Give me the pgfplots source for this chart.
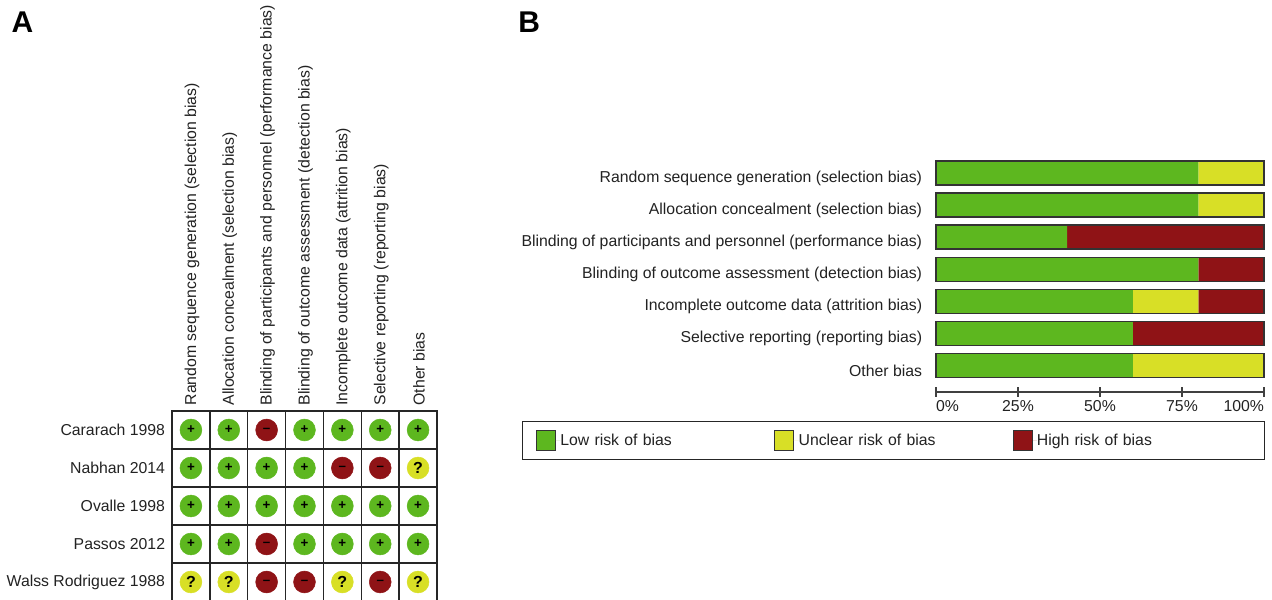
\documentclass[border=0pt]{standalone}
\usepackage{pgfplots}
\pgfplotsset{compat=1.18}
\usepackage{fontspec}
\setmainfont{Liberation Sans}
\definecolor{lowc}{HTML}{5DB71F}
\definecolor{uncc}{HTML}{D8DF26}
\definecolor{highc}{HTML}{8F1316}
\definecolor{txt}{HTML}{222222}
\newcommand{\lab}{\fontsize{11.85pt}{13pt}\selectfont\color{txt}}
\begin{document}
\begin{tikzpicture}
\path[use as bounding box] (0,0) rectangle (954pt,450pt);
\node[anchor=base west,font=\fontsize{22.5pt}{24pt}\selectfont\bfseries,inner sep=0pt] at (8.5pt,425.5pt) {A};
\node[anchor=base west,font=\fontsize{22.5pt}{24pt}\selectfont\bfseries,inner sep=0pt] at (388.6pt,425.5pt) {B};
% Panel A
\begin{axis}[
  at={(129pt,-0.75pt)},anchor=south west,
  scale only axis,width=198.75pt,height=142.5pt,
  xmin=-0.5,xmax=6.5,ymin=-0.5,ymax=4.5,
  xtick={0,1,2,3,4,5,6},ytick={0,1,2,3,4},
  xticklabels={Random sequence generation (selection bias),Allocation concealment (selection bias),Blinding of participants and personnel (performance bias),Blinding of outcome assessment (detection bias),Incomplete outcome data (attrition bias),Selective reporting (reporting bias),Other bias},
  yticklabels={Walss Rodriguez 1988,Passos 2012,Ovalle 1998,Nabhan 2014,Cararach 1998},
  xticklabel pos=upper,
  xticklabel style={rotate=90,anchor=west,font=\lab,inner sep=0pt,xshift=4pt,yshift=-0.75pt},
  yticklabel style={font=\lab,anchor=east,inner sep=0pt,xshift=-5pt},
  major tick length=0pt,
  minor xtick={0.5,1.5,2.5,3.5,4.5,5.5},
  minor ytick={0.5,1.5,2.5,3.5},
  minor tick length=0pt,
  minor grid style={draw=black!85,line width=1.1pt},
  grid=minor,
  axis line style={draw=black!85,line width=1.1pt},
  clip=false,
  only marks,
  nodes near coords style={anchor=center,inner sep=0pt,text=black,font=\fontsize{10pt}{12pt}\selectfont\bfseries},
]
\addplot+[only marks,mark=*,mark size=8.2pt,mark options={draw=lowc,fill=lowc},nodes near coords={\raisebox{-0.7pt}{+}}] coordinates {
 (0,4)(1,4)(3,4)(4,4)(5,4)(6,4)
 (0,3)(1,3)(2,3)(3,3)
 (0,2)(1,2)(2,2)(3,2)(4,2)(5,2)(6,2)
 (0,1)(1,1)(3,1)(4,1)(5,1)(6,1)
};
\addplot+[only marks,mark=*,mark size=8.2pt,mark options={draw=uncc,fill=uncc},nodes near coords={\fontsize{12pt}{12pt}\selectfont ?}] coordinates {
 (6,3)
 (0,0)(1,0)(4,0)(6,0)
};
\addplot+[only marks,mark=*,mark size=8.2pt,mark options={draw=highc,fill=highc},nodes near coords={\raisebox{-2pt}{–}}] coordinates {
 (2,4)
 (4,3)(5,3)
 (2,1)
 (2,0)(3,0)(5,0)
};
\end{axis}
% Panel B
\begin{axis}[
  at={(702pt,156pt)},anchor=south west,
  scale only axis,width=246pt,height=176.25pt,
  xbar stacked,bar width=18pt,
  xmin=0,xmax=100,ymin=-0.84,ymax=6.5,
  axis x line=bottom,axis y line=left,
  axis line style={-},
  x axis line style={draw=black!75,line width=0.9pt},
  y axis line style={draw=none},
  xtick={0,25,50,75,100},
  xticklabels={\makebox[0pt][l]{0\%},25\%,50\%,75\%,\makebox[0pt][r]{100\%}},
  xtick align=center,
  x tick style={draw=black!75,line width=0.8pt},
  major tick length=7pt,
  xticklabel style={font=\lab,inner sep=0pt,yshift=-3pt},
  ytick={0,1,2,3,4,5,6},
  yticklabels={Other bias,Selective reporting (reporting bias),Incomplete outcome data (attrition bias),Blinding of outcome assessment (detection bias),Blinding of participants and personnel (performance bias),Allocation concealment (selection bias),Random sequence generation (selection bias)},
  y tick style={draw=none},
  yticklabel style={font=\lab,anchor=east,inner sep=0pt,xshift=-6.75pt,yshift=-4pt},
  legend style={at={(-1.262,-0.1234)},anchor=north west,legend columns=3,
    draw=black!85,line width=0.8pt,inner xsep=10pt,inner ysep=6.5pt,
    font=\lab,
    nodes={text width=160.5pt,align=left,inner sep=0pt,line width=0pt}},
  legend image code/.code={\fill[#1,draw=black!80,line width=0.5pt] (0,-7.5pt) rectangle (14.25pt,7.5pt);\path (0,0) -- (18pt,0);},
  legend cell align=left,
]
\addplot[draw=none,fill=lowc] coordinates {(60,0)(60,1)(60,2)(80,3)(40,4)(80,5)(80,6)};
\addplot[draw=none,fill=uncc] coordinates {(40,0)(0,1)(20,2)(0,3)(0,4)(20,5)(20,6)};
\addplot[draw=none,fill=highc] coordinates {(0,0)(40,1)(20,2)(20,3)(60,4)(0,5)(0,6)};
\legend{Low risk of bias,Unclear risk of bias,High risk of bias}
\end{axis}
% bar outlines
\begin{axis}[
  at={(702pt,156pt)},anchor=south west,
  scale only axis,width=246pt,height=176.25pt,
  xbar,bar width=18pt,
  xmin=0,xmax=100,ymin=-0.84,ymax=6.5,
  hide axis,clip=false,
]
\addplot[draw=black!80,line width=0.8pt,fill=none] coordinates {(100,0)(100,1)(100,2)(100,3)(100,4)(100,5)(100,6)};
\end{axis}
\end{tikzpicture}
\end{document}
